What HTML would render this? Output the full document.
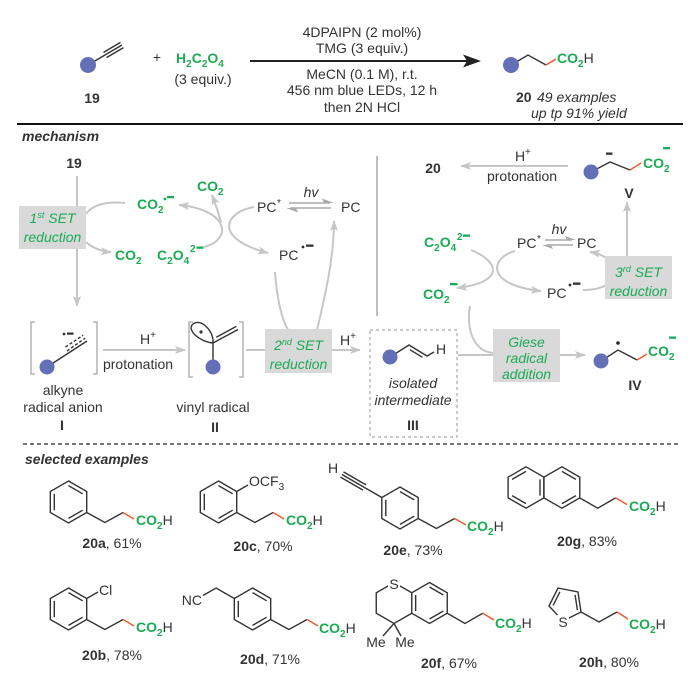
<!DOCTYPE html>
<html><head><meta charset="utf-8"><style>
html,body{margin:0;padding:0;background:#fff;}
svg{display:block;font-family:"Liberation Sans",Arial,sans-serif;}
.t{fill:#333;font-size:14px;}
.b{font-weight:bold;}
.i{font-style:italic;}
.g{fill:#1aab53;font-weight:bold;font-size:14px;}
.gi{fill:#1aab53;font-style:italic;font-size:14px;}
.gl{stroke:#c6c6c6;stroke-width:2;fill:none;}
.k{stroke:#333;stroke-width:1.4;fill:none;}
.o{stroke:#f0562a;stroke-width:1.4;fill:none;}
.br{stroke:#a8a8a8;stroke-width:1.3;fill:none;}
.bx{fill:#d9d9d9;}
</style></head><body>
<svg width="700" height="684" viewBox="0 0 700 684" xmlns="http://www.w3.org/2000/svg">
<rect width="700" height="684" fill="#fff"/>
<defs>
<marker id="ag" viewBox="0 0 11 8" refX="10" refY="4" markerWidth="11" markerHeight="8" markerUnits="userSpaceOnUse" orient="auto"><path d="M0,0 L11,4 L0,8 L2.5,4 Z" fill="#c6c6c6"/></marker>
</defs>

<!-- ============ TOP SCHEME ============ -->
<g class="k">
<line x1="88" y1="65" x2="105" y2="55"/>
<line x1="105" y1="55" x2="122" y2="45"/>
<line x1="106.5" y1="57.6" x2="123.5" y2="47.6"/>
<line x1="103.5" y1="52.4" x2="120.5" y2="42.4"/>
</g>
<circle cx="88" cy="65" r="8" fill="#6370b8"/>
<text x="92" y="103" class="t b" text-anchor="middle">19</text>
<text x="157" y="62" class="t" text-anchor="middle">+</text>
<text x="176" y="63" class="g">H<tspan font-size="10" dy="4">2</tspan><tspan dy="-4">C</tspan><tspan font-size="10" dy="4">2</tspan><tspan dy="-4">O</tspan><tspan font-size="10" dy="4">4</tspan></text>
<text x="203" y="84" class="t" text-anchor="middle">(3 equiv.)</text>

<line x1="250" y1="61" x2="470" y2="61" stroke="#222" stroke-width="2"/>
<polygon points="481,61 463,54.5 467,61 463,67.5" fill="#222"/>
<text x="362" y="37" class="t" text-anchor="middle">4DPAIPN (2 mol%)</text>
<text x="362" y="53" class="t" text-anchor="middle">TMG (3 equiv.)</text>
<text x="362" y="79" class="t" text-anchor="middle">MeCN (0.1 M), r.t.</text>
<text x="362" y="95" class="t" text-anchor="middle">456 nm blue LEDs, 12 h</text>
<text x="362" y="112" class="t" text-anchor="middle">then 2N HCl</text>

<polyline class="k" points="511,65 528,55 546,65"/>
<line class="o" x1="546" y1="65" x2="556" y2="59"/>
<circle cx="511" cy="65" r="8" fill="#6370b8"/>
<text x="557" y="63" class="g">CO<tspan font-size="10" dy="4">2</tspan><tspan dy="-4" fill="#333" font-weight="normal">H</tspan></text>
<text x="516" y="102" class="t b">20</text>
<text x="537" y="102" class="t i">49 examples</text>
<text x="531" y="118" class="t i">up tp 91% yield</text>

<line x1="17" y1="124" x2="683" y2="124" stroke="#111" stroke-width="2"/>

<!-- ============ MECHANISM ============ -->
<text x="22" y="141" class="t b i">mechanism</text>
<text x="74" y="168" class="t b" text-anchor="middle">19</text>

<!-- gray connectors left -->
<line class="gl" x1="77" y1="176" x2="77" y2="306" marker-end="url(#ag)"/>
<path class="gl" d="M86 214 C92 205, 106 201, 125 203"/>
<path class="gl" d="M86 242 Q96 251 111 252" marker-end="url(#ag)"/>
<path class="gl" d="M204 247 C232 240, 230 210, 179 205" marker-end="url(#ag)"/>
<path class="gl" d="M221 222 Q216 205 212 195" marker-end="url(#ag)"/>
<path class="gl" d="M254 207 C225 212, 212 238, 268 253" marker-end="url(#ag)"/>
<path class="gl" d="M275 272 Q278 312 288 330"/>
<path class="gl" d="M317 330 C324 300, 334 260, 334 221" marker-end="url(#ag)"/>
<!-- equilibrium left -->
<line x1="289" y1="203" x2="330" y2="203" stroke="#aaa" stroke-width="1.5"/>
<polygon points="334,203 322,198.5 324,203" fill="#aaa"/>
<line x1="290" y1="208" x2="331" y2="208" stroke="#aaa" stroke-width="1.5"/>
<polygon points="286,208 298,212.5 296,208" fill="#aaa"/>

<!-- divider -->
<line x1="377" y1="156" x2="377" y2="316" stroke="#bdbdbd" stroke-width="2"/>

<!-- right connectors -->
<line class="gl" x1="568" y1="166" x2="461" y2="166" marker-end="url(#ag)"/>
<line class="gl" x1="627" y1="256" x2="627" y2="202" marker-end="url(#ag)"/>
<path class="gl" d="M471 250 C500 262, 505 282, 457 288" marker-end="url(#ag)"/>
<path class="gl" d="M515 251 C490 258, 485 285, 541 291" marker-end="url(#ag)"/>
<path class="gl" d="M583 290 C625 290, 625 258, 590 252" marker-end="url(#ag)"/>
<line x1="545" y1="240" x2="572" y2="240" stroke="#aaa" stroke-width="1.5"/>
<polygon points="576,240 565,236 567,240" fill="#aaa"/>
<line x1="546" y1="245" x2="573" y2="245" stroke="#aaa" stroke-width="1.5"/>
<polygon points="542,245 553,249 551,245" fill="#aaa"/>

<!-- bottom row connectors -->
<line class="gl" x1="103" y1="350" x2="185" y2="350" marker-end="url(#ag)"/>
<line class="gl" x1="246" y1="350" x2="266" y2="350"/>
<line class="gl" x1="331" y1="350" x2="360" y2="350" marker-end="url(#ag)"/>
<line class="gl" x1="458" y1="355" x2="494" y2="355"/>
<path class="gl" d="M470 306 C466 330, 474 352, 494 353"/>
<line class="gl" x1="559" y1="355" x2="585" y2="355" marker-end="url(#ag)"/>

<!-- boxes -->
<rect class="bx" x="19" y="206" width="67" height="43"/>
<text x="52.5" y="223" class="gi" text-anchor="middle">1<tspan font-size="9" dy="-5">st</tspan><tspan dy="5"> SET</tspan></text>
<text x="52.5" y="242" class="gi" text-anchor="middle">reduction</text>

<rect class="bx" x="265" y="329" width="67" height="44"/>
<text x="298.5" y="350" class="gi" text-anchor="middle">2<tspan font-size="9" dy="-5">nd</tspan><tspan dy="5"> SET</tspan></text>
<text x="298.5" y="369" class="gi" text-anchor="middle">reduction</text>

<rect class="bx" x="605" y="256" width="67" height="43"/>
<text x="638.5" y="277" class="gi" text-anchor="middle">3<tspan font-size="9" dy="-5">rd</tspan><tspan dy="5"> SET</tspan></text>
<text x="638.5" y="296" class="gi" text-anchor="middle">reduction</text>

<rect class="bx" x="493" y="329" width="67" height="53"/>
<text x="526.5" y="347" class="gi" text-anchor="middle">Giese</text>
<text x="526.5" y="363" class="gi" text-anchor="middle">radical</text>
<text x="526.5" y="379" class="gi" text-anchor="middle">addition</text>

<!-- left cycle labels -->
<text x="137" y="209" class="g">CO<tspan font-size="10" dy="4">2</tspan></text>
<circle cx="165" cy="199" r="1.4" fill="#1aab53"/>
<rect x="167" y="196" width="7" height="2.3" fill="#1aab53"/>
<text x="197" y="191" class="g">CO<tspan font-size="10" dy="4">2</tspan></text>
<text x="115" y="260" class="g">CO<tspan font-size="10" dy="4">2</tspan></text>
<text x="157" y="260" class="g">C<tspan font-size="10" dy="4">2</tspan><tspan dy="-4">O</tspan><tspan font-size="10" dy="4">4</tspan></text>
<text x="190" y="252" class="g" style="font-size:10px">2</text>
<rect x="196.5" y="246.5" width="7" height="2.3" fill="#1aab53"/>
<text x="257" y="212" class="t">PC</text>
<text x="277" y="206" class="t" style="font-size:10px">*</text>
<text x="311" y="197" class="t i" text-anchor="middle">hv</text>
<text x="341" y="212" class="t">PC</text>
<text x="279" y="260" class="t">PC</text>
<circle cx="303" cy="247" r="1.4" fill="#333"/>
<rect x="306" y="244.5" width="7.5" height="2.3" fill="#333"/>

<!-- right cycle labels -->
<text x="433" y="173" class="t b" text-anchor="middle">20</text>
<text x="515" y="161" class="t">H</text>
<text x="525" y="155" class="t" style="font-size:10px">+</text>
<text x="522" y="181" class="t" text-anchor="middle">protonation</text>

<polyline class="k" points="591,172 610,162 630,170"/>
<line class="o" x1="630" y1="170" x2="641" y2="163"/>
<circle cx="591" cy="172" r="7.5" fill="#6370b8"/>
<rect x="606" y="152.5" width="6.5" height="2.3" fill="#333"/>
<text x="643" y="168" class="g">CO<tspan font-size="10" dy="4">2</tspan></text>
<rect x="663" y="147" width="7" height="2.3" fill="#1aab53"/>
<text x="629" y="198" class="t b" text-anchor="middle">V</text>

<text x="424" y="247" class="g">C<tspan font-size="10" dy="4">2</tspan><tspan dy="-4">O</tspan><tspan font-size="10" dy="4">4</tspan></text>
<text x="457" y="240" class="g" style="font-size:10px">2</text>
<rect x="463" y="234.5" width="7" height="2.3" fill="#1aab53"/>
<text x="517" y="248" class="t">PC</text>
<text x="537" y="242" class="t" style="font-size:10px">*</text>
<text x="559" y="234" class="t i" text-anchor="middle">hv</text>
<text x="577" y="248" class="t">PC</text>
<text x="423" y="299" class="g">CO<tspan font-size="10" dy="4">2</tspan></text>
<rect x="450" y="283" width="7.5" height="2.3" fill="#1aab53"/>
<text x="547" y="298" class="t">PC</text>
<circle cx="570" cy="285" r="1.4" fill="#333"/>
<rect x="573" y="282.5" width="7.5" height="2.3" fill="#333"/>

<!-- structure I -->
<path class="br" d="M35,322 L31,322 L31,374 L35,374"/>
<path class="br" d="M93,322 L97,322 L97,374 L93,374"/>
<line class="k" x1="47" y1="367" x2="87" y2="341"/>
<line class="k" x1="67" y1="351" x2="85.1" y2="338.2" stroke-dasharray="3,2"/>
<line class="k" x1="65.5" y1="347" x2="83.2" y2="335.2" stroke-dasharray="3,2"/>
<circle cx="47" cy="367" r="7.5" fill="#6370b8"/>
<circle cx="64" cy="334" r="1.4" fill="#333"/>
<rect x="67" y="332.5" width="6.5" height="2.2" fill="#333"/>
<text x="63" y="395" class="t" text-anchor="middle">alkyne</text>
<text x="63" y="412" class="t" text-anchor="middle">radical anion</text>
<text x="62" y="430" class="t b" text-anchor="middle">I</text>
<text x="148" y="344" class="t" text-anchor="middle">H<tspan style="font-size:10px" dy="-6">+</tspan></text>
<text x="138" y="369" class="t" text-anchor="middle">protonation</text>

<!-- structure II -->
<path class="br" d="M193,322 L189,322 L189,377 L193,377"/>
<path class="br" d="M239,322 L243,322 L243,377 L239,377"/>
<line class="k" x1="213" y1="367" x2="213" y2="343"/>
<path class="k" d="M213,343 C214,330 200,318 193,324 C186,330 200,342 213,343 Z"/>
<circle cx="201" cy="332" r="1.6" fill="#333"/>
<line class="k" x1="213" y1="343" x2="238" y2="329.5"/>
<line class="k" x1="216.3" y1="337.2" x2="236.3" y2="326.4"/>
<circle cx="213" cy="367" r="7.5" fill="#6370b8"/>
<text x="213" y="412" class="t" text-anchor="middle">vinyl radical</text>
<text x="215" y="432" class="t b" text-anchor="middle">II</text>
<text x="348" y="345" class="t" text-anchor="middle">H<tspan style="font-size:10px" dy="-6">+</tspan></text>

<!-- structure III -->
<rect x="370" y="330" width="87" height="107" fill="none" stroke="#aaa" stroke-width="1.2" stroke-dasharray="3,3"/>
<polyline class="k" points="390,357 409,345 427,356 434,352"/>
<line class="k" x1="409.9" y1="349.7" x2="422.5" y2="357.3"/>
<circle cx="390" cy="357" r="7.5" fill="#6370b8"/>
<text x="436" y="354" class="t">H</text>
<text x="413" y="388" class="t i" text-anchor="middle">isolated</text>
<text x="413" y="405" class="t i" text-anchor="middle">intermediate</text>
<text x="413" y="430" class="t b" text-anchor="middle">III</text>

<!-- structure IV -->
<polyline class="k" points="601,361 618,350 637,360"/>
<line class="o" x1="637" y1="360" x2="647" y2="354"/>
<circle cx="601" cy="361" r="7.5" fill="#6370b8"/>
<circle cx="618" cy="343" r="1.8" fill="#222"/>
<text x="648" y="356" class="g">CO<tspan font-size="10" dy="4">2</tspan></text>
<rect x="669" y="336.5" width="7" height="2.3" fill="#1aab53"/>
<text x="635" y="390" class="t b" text-anchor="middle">IV</text>

<line x1="23" y1="444" x2="679" y2="444" stroke="#222" stroke-width="1.3" stroke-dasharray="4,3"/>

<!-- ============ EXAMPLES ============ -->
<text x="25" y="464" class="t b i">selected examples</text>

<g class="k">
<!-- 20a -->
<polygon points="68.5,481 86.7,491.5 86.7,512.5 68.5,523 50.3,512.5 50.3,491.5"/>
<line x1="68.5" y1="485.6" x2="82.7" y2="493.8"/>
<line x1="82.7" y1="510.2" x2="68.5" y2="518.4"/>
<line x1="54.3" y1="510.2" x2="54.3" y2="493.8"/>
<polyline points="86.7,512.5 104.9,522.5 123.1,512.5"/>
<!-- 20c -->
<polygon points="218.5,481 236.7,491.5 236.7,512.5 218.5,523 200.3,512.5 200.3,491.5"/>
<line x1="218.5" y1="485.6" x2="232.7" y2="493.8"/>
<line x1="232.7" y1="510.2" x2="218.5" y2="518.4"/>
<line x1="204.3" y1="510.2" x2="204.3" y2="493.8"/>
<line x1="236.7" y1="491.5" x2="248" y2="485"/>
<polyline points="236.7,512.5 254.9,522.5 273.1,512.5"/>
<!-- 20e -->
<polygon points="400,487 418.2,497.5 418.2,518.5 400,529 381.8,518.5 381.8,497.5"/>
<line x1="400" y1="491.6" x2="414.2" y2="499.8"/>
<line x1="414.2" y1="516.2" x2="400" y2="524.4"/>
<line x1="385.8" y1="516.2" x2="385.8" y2="499.8"/>
<line x1="381.8" y1="497.5" x2="364.5" y2="487.5"/>
<line x1="364.5" y1="487.5" x2="342" y2="474.5"/>
<line x1="366" y1="484.9" x2="343.5" y2="471.9"/>
<line x1="363" y1="490.1" x2="340.5" y2="477.1"/>
<polyline points="418.2,518.5 436.4,528.5 454.6,518.5"/>
<!-- 20g -->
<polygon points="526,466.8 543.9,477.2 543.9,497.9 526,508.2 508.1,497.9 508.1,477.2"/>
<polygon points="561.9,466.8 579.8,477.2 579.8,497.9 561.9,508.2 543.9,497.9 543.9,477.2"/>
<line x1="540" y1="479.4" x2="540" y2="495.6"/>
<line x1="526" y1="503.6" x2="512" y2="495.6"/>
<line x1="512" y1="479.4" x2="526" y2="471.4"/>
<line x1="561.9" y1="471.4" x2="575.9" y2="479.4"/>
<line x1="575.9" y1="495.6" x2="561.9" y2="503.6"/>
<polyline points="579.8,497.9 597.7,508.2 615.6,497.9"/>
<!-- 20b -->
<polygon points="68.5,588 86.7,598.5 86.7,619.5 68.5,630 50.3,619.5 50.3,598.5"/>
<line x1="68.5" y1="592.6" x2="82.7" y2="600.8"/>
<line x1="82.7" y1="617.2" x2="68.5" y2="625.4"/>
<line x1="54.3" y1="617.2" x2="54.3" y2="600.8"/>
<line x1="86.7" y1="598.5" x2="98" y2="592"/>
<polyline points="86.7,619.5 104.9,629.5 123.1,619.5"/>
<!-- 20d -->
<polygon points="252.5,588 270.7,598.5 270.7,619.5 252.5,630 234.3,619.5 234.3,598.5"/>
<line x1="252.5" y1="592.6" x2="266.7" y2="600.8"/>
<line x1="266.7" y1="617.2" x2="252.5" y2="625.4"/>
<line x1="238.3" y1="617.2" x2="238.3" y2="600.8"/>
<polyline points="234.3,598.5 216.1,588 203,595.5"/>
<polyline points="270.7,619.5 288.9,629.5 307.1,619.5"/>
<!-- 20f -->
<polygon points="429.5,582.5 447.25,592.75 447.25,613.25 429.5,623.5 411.75,613.25 411.75,592.75"/>
<line x1="429.5" y1="587" x2="443.35" y2="595"/>
<line x1="443.35" y1="611" x2="429.5" y2="619"/>
<line x1="415.65" y1="611" x2="415.65" y2="595"/>
<polyline points="411.75,592.75 394,582.5 376.25,592.75 376.25,613.25 394,623.5 411.75,613.25"/>
<line x1="394" y1="623.5" x2="383" y2="636"/>
<line x1="394" y1="623.5" x2="401" y2="636"/>
<polyline points="447.25,613.25 465,623.5 482.75,613.25"/>
<!-- 20h -->
<polygon points="563,621 581,612 578,592 558,588 549,606"/>
<line x1="577.4" y1="610.1" x2="575.1" y2="594.9"/>
<line x1="559.9" y1="591.8" x2="553.1" y2="605.5"/>
<polyline points="581,612 599,622 617,612"/>
</g>
<g class="o">
<line x1="123.1" y1="512.5" x2="134" y2="519"/>
<line x1="273.1" y1="512.5" x2="284" y2="519"/>
<line x1="454.6" y1="518.5" x2="466" y2="525"/>
<line x1="615.6" y1="497.9" x2="627" y2="504.5"/>
<line x1="123.1" y1="619.5" x2="134" y2="626"/>
<line x1="307.1" y1="619.5" x2="318" y2="626"/>
<line x1="482.75" y1="613.25" x2="494" y2="620"/>
<line x1="617" y1="612" x2="628" y2="619"/>
</g>
<!-- heteroatom masks -->
<rect x="388" y="577" width="12" height="14" fill="#fff"/>
<rect x="557" y="615" width="12" height="14" fill="#fff"/>

<!-- CO2H labels -->
<text x="136" y="525" class="g">CO<tspan font-size="10" dy="4">2</tspan><tspan dy="-4" fill="#333" font-weight="normal">H</tspan></text>
<text x="286" y="525" class="g">CO<tspan font-size="10" dy="4">2</tspan><tspan dy="-4" fill="#333" font-weight="normal">H</tspan></text>
<text x="467" y="531" class="g">CO<tspan font-size="10" dy="4">2</tspan><tspan dy="-4" fill="#333" font-weight="normal">H</tspan></text>
<text x="629" y="511" class="g">CO<tspan font-size="10" dy="4">2</tspan><tspan dy="-4" fill="#333" font-weight="normal">H</tspan></text>
<text x="136" y="632" class="g">CO<tspan font-size="10" dy="4">2</tspan><tspan dy="-4" fill="#333" font-weight="normal">H</tspan></text>
<text x="319" y="633" class="g">CO<tspan font-size="10" dy="4">2</tspan><tspan dy="-4" fill="#333" font-weight="normal">H</tspan></text>
<text x="495" y="628" class="g">CO<tspan font-size="10" dy="4">2</tspan><tspan dy="-4" fill="#333" font-weight="normal">H</tspan></text>
<text x="629" y="629" class="g">CO<tspan font-size="10" dy="4">2</tspan><tspan dy="-4" fill="#333" font-weight="normal">H</tspan></text>

<!-- other atom labels -->
<text x="249" y="486" class="t">OCF<tspan style="font-size:10px" dy="4">3</tspan></text>
<text x="333" y="473" class="t" text-anchor="middle">H</text>
<text x="99" y="595" class="t">Cl</text>
<text x="202" y="605" class="t" text-anchor="end">NC</text>
<text x="394" y="589" class="t" text-anchor="middle">S</text>
<text x="376" y="647" class="t" text-anchor="middle">Me</text>
<text x="405" y="647" class="t" text-anchor="middle">Me</text>
<text x="563" y="627" class="t" text-anchor="middle">S</text>

<!-- compound labels -->
<text x="112" y="548" class="t" text-anchor="middle"><tspan font-weight="bold">20a</tspan>, 61%</text>
<text x="263" y="551" class="t" text-anchor="middle"><tspan font-weight="bold">20c</tspan>, 70%</text>
<text x="413" y="555" class="t" text-anchor="middle"><tspan font-weight="bold">20e</tspan>, 73%</text>
<text x="587" y="546" class="t" text-anchor="middle"><tspan font-weight="bold">20g</tspan>, 83%</text>
<text x="112" y="660" class="t" text-anchor="middle"><tspan font-weight="bold">20b</tspan>, 78%</text>
<text x="270" y="664" class="t" text-anchor="middle"><tspan font-weight="bold">20d</tspan>, 71%</text>
<text x="449" y="668" class="t" text-anchor="middle"><tspan font-weight="bold">20f</tspan>, 67%</text>
<text x="609" y="667" class="t" text-anchor="middle"><tspan font-weight="bold">20h</tspan>, 80%</text>
</svg>
</body></html>
